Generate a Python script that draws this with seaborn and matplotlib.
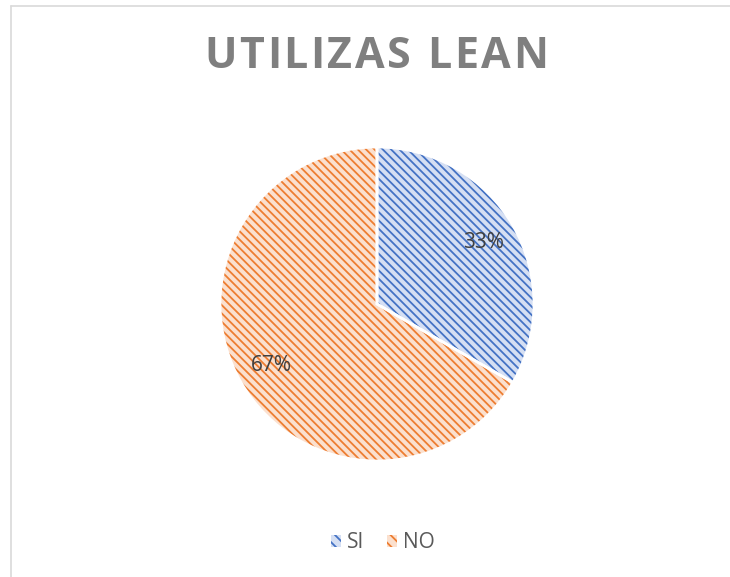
import matplotlib
matplotlib.use("Agg")
import matplotlib.pyplot as plt
import seaborn as sns
from matplotlib.patches import Patch

categories = ["SI", "NO"]
values = [1, 2]
hatch_colors = ["#4472C4", "#ED7D31"]
fill_colors = ["#D5DFF3", "#FBE0CE"]
title = "UTILIZAS LEAN"

sns.set_theme(style="white")
plt.rcParams["font.family"] = ["Open Sans", "DejaVu Sans"]
plt.rcParams["hatch.linewidth"] = 1.3
HATCH = "\\" * 4

W, H = 730, 577
fig = plt.figure(figsize=(W / 100, H / 100), dpi=100)
fig.patch.set_facecolor("white")

# chart border
fig.add_artist(plt.Line2D([10.5 / W, 10.5 / W], [0, 1 - 5.5 / H],
                          transform=fig.transFigure, color="#D9D9D9", lw=1.2))
fig.add_artist(plt.Line2D([10.5 / W, 1], [1 - 5.5 / H, 1 - 5.5 / H],
                          transform=fig.transFigure, color="#D9D9D9", lw=1.2))

cx, cy, r = 377, 304, 157
ax = fig.add_axes([(cx - r) / W, (H - cy - r) / H, 2 * r / W, 2 * r / H])

wedges, texts, autotexts = ax.pie(
    values, startangle=90, counterclock=False, colors=fill_colors,
    autopct="%.0f%%", pctdistance=0.78,
    wedgeprops=dict(linewidth=0),
    textprops=dict(fontsize=15, color="#404040"),
)
for w, hc in zip(wedges, hatch_colors):
    w.set_hatch(HATCH)
    w.set_edgecolor(hc)
# white separators / outline overlay
ax.pie(values, startangle=90, counterclock=False, colors=["none", "none"],
       wedgeprops=dict(linewidth=2, edgecolor="white"))
for t in autotexts:
    t.set_zorder(5)
ax.set_xlim(-1.0, 1.0)
ax.set_ylim(-1.0, 1.0)
ax.set_aspect("equal")
ax.axis("off")

# title with letter spacing (tracking)
renderer = fig.canvas.get_renderer()
tprops = dict(fontsize=31, fontweight="bold", color="#7F7F7F", va="center", ha="left")
tracking = 2.6
chars = []
widths = []
for ch in title:
    t = fig.text(0, 0, ch if ch != " " else "\u00a0", **tprops)
    widths.append(t.get_window_extent(renderer).width)
    chars.append(t)
total = sum(widths) + tracking * (len(title) - 1)
x = 376 - total / 2
for t, wdt in zip(chars, widths):
    t.set_position((x / W, 1 - 56 / H))
    x += wdt + tracking

handles = [Patch(facecolor=f, edgecolor=h, hatch="\\\\\\", linewidth=0)
           for f, h in zip(fill_colors, hatch_colors)]
fig.legend(handles, categories, loc="center", bbox_to_anchor=(383 / W, 1 - 543 / H),
           ncol=2, frameon=False, fontsize=15, handlelength=0.45, handleheight=0.45,
           handletextpad=0.3, columnspacing=1.1, labelcolor="#595959")

fig.savefig("out.png", dpi=100, facecolor="white")
